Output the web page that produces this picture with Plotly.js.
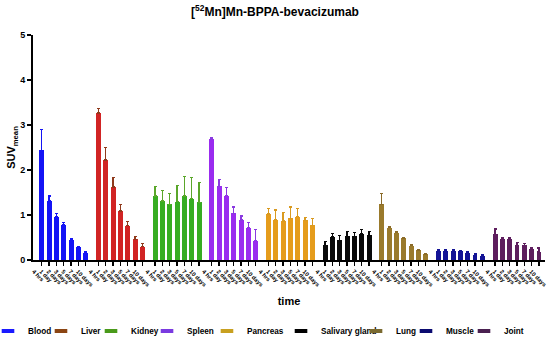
<!DOCTYPE html>
<html><head><meta charset="utf-8">
<script src="https://cdn.plot.ly/plotly-3.0.1.min.js"></script>
<style>html,body{margin:0;padding:0;background:#fff}#chart{width:550px;height:340px}</style>
</head><body><div id="chart"></div>
<script>
const organs = ["Blood","Liver","Kidney","Spleen","Pancreas","Salivary gland","Lung","Muscle","Joint"];
const timeLabels = ["4 hrs","1 day","2 days","3 days","5 days","7 days","10 days"];

const blood    = [2.44,1.32,0.96,0.78,0.45,0.28,0.16];
const bloodErr = [0.46,0.10,0.07,0.06,0.03,0.02,0.02];
const liver    = [3.27,2.22,1.62,1.09,0.76,0.46,0.30];
const liverErr = [0.09,0.28,0.22,0.15,0.10,0.06,0.06];
const kidney    = [1.42,1.31,1.24,1.30,1.42,1.36,1.28];
const kidneyErr = [0.22,0.24,0.24,0.35,0.43,0.48,0.44];
const spleen    = [2.69,1.64,1.43,1.04,0.89,0.72,0.43];
const spleenErr = [0.03,0.15,0.18,0.14,0.09,0.11,0.25];
const pancreas    = [1.02,0.90,0.87,0.93,0.96,0.88,0.77];
const pancreasErr = [0.13,0.21,0.19,0.25,0.19,0.07,0.16];
const salivary    = [0.33,0.51,0.44,0.53,0.53,0.58,0.55];
const salivaryErr = [0.08,0.08,0.11,0.10,0.08,0.10,0.09];
const lung    = [1.24,0.72,0.61,0.48,0.32,0.22,0.13];
const lungErr = [0.24,0.02,0.03,0.02,0.03,0.02,0.02];
const muscle    = [0.21,0.21,0.20,0.19,0.16,0.12,0.10];
const muscleErr = [0.03,0.02,0.02,0.02,0.02,0.02,0.02];
const joint    = [0.57,0.46,0.47,0.33,0.33,0.24,0.18];
const jointErr = [0.12,0.03,0.03,0.06,0.03,0.03,0.09];

const values = [blood,liver,kidney,spleen,pancreas,salivary,lung,muscle,joint];
const errors = [bloodErr,liverErr,kidneyErr,spleenErr,pancreasErr,salivaryErr,lungErr,muscleErr,jointErr];

const barColors    = ["#1414f5","#d12424","#37ad22","#9a2cef","#e59c1c","#0a0a0a","#9a7a2c","#141496","#5e1e5e"];
const errColors    = ["#1414f5","#8f3a1c","#5aa62a","#8a3ae0","#d99a20","#0a0a0a","#8a6a28","#141496","#5e1e5e"];
const legendColors = ["#1a1aff","#8b4513","#4a9a1a","#7a3ae0","#c8a020","#000000","#7a6a30","#0a0a70","#4a2050"];
const legendX      = [-0.0879, 0.0156, 0.1133, 0.2227, 0.3398, 0.4844, 0.6309, 0.7285, 0.8418];

const PERIOD = 7.73;
const FONT = "Arial, 'Liberation Sans', sans-serif";

const traces = [];
const tickvals = [], ticktext = [];
organs.forEach((name, g) => {
  const xs = timeLabels.map((t, i) => g * PERIOD + i);
  xs.forEach((x, i) => { tickvals.push(x); ticktext.push(timeLabels[i]); });
  traces.push({
    type: "bar", x: xs, y: values[g], name: name, showlegend: false,
    width: 0.68, marker: {color: barColors[g], line: {width: 0}},
    error_y: {type: "data", symmetric: false, array: errors[g], arrayminus: values[g].map(() => 0),
              color: errColors[g], thickness: 1.3, width: 1.5},
    hoverinfo: "skip"
  });
});
organs.forEach((name, g) => {
  traces.push({
    type: "scatter", mode: "markers", x: [null], y: [null], name: name,
    legend: g === 0 ? "legend" : "legend" + (g + 1),
    marker: {symbol: "line-ew", size: 9, color: legendColors[g], line: {color: legendColors[g], width: 4}},
    hoverinfo: "skip"
  });
});

const layout = {
  width: 550, height: 340,
  margin: {l: 33, r: 5, t: 35, b: 80, autoexpand: false},
  paper_bgcolor: "#fff", plot_bgcolor: "#fff",
  font: {family: FONT, color: "#000"},
  title: {text: "[<sup>52</sup>Mn]Mn-BPPA-bevacizumab", font: {size: 12, weight: "bold", family: FONT},
          x: 0.5, xanchor: "center", y: 0.965, yanchor: "middle"},
  bargap: 0, barmode: "group",
  xaxis: {
    range: [-1.19, 68.66], showgrid: false, zeroline: false, automargin: false,
    showline: true, linecolor: "#000", linewidth: 2,
    tickmode: "array", tickvals: tickvals, ticktext: ticktext,
    ticks: "outside", ticklen: 4, tickwidth: 1.3, tickcolor: "#000",
    tickangle: 45, ticklabelshift: -8, ticklabelstandoff: 0,
    tickfont: {size: 5.8, weight: "bold", family: FONT},
    title: {text: "time", font: {size: 11, weight: "bold", family: FONT}, standoff: 10}
  },
  yaxis: {
    range: [0, 5], showgrid: false, zeroline: false, automargin: false,
    showline: true, linecolor: "#000", linewidth: 2,
    tickmode: "array", tickvals: [0,1,2,3,4,5], ticktext: ["0","1","2","3","4","5"],
    ticks: "outside", ticklen: 4, tickwidth: 1.5, tickcolor: "#000",
    tickfont: {size: 9, weight: "bold", family: FONT},
    title: {text: "SUV<sub>mean</sub>", font: {size: 11, weight: "bold", family: FONT}, standoff: 2}
  },
  showlegend: true
};
organs.forEach((name, g) => {
  const key = g === 0 ? "legend" : "legend" + (g + 1);
  layout[key] = {
    x: legendX[g], xanchor: "left", y: -0.316, yanchor: "middle", orientation: "h",
    bgcolor: "rgba(0,0,0,0)", borderwidth: 0,
    font: {size: 8.2, weight: "bold", family: FONT}
  };
});

Plotly.newPlot("chart", traces, layout, {staticPlot: true, displayModeBar: false});
</script></body></html>
